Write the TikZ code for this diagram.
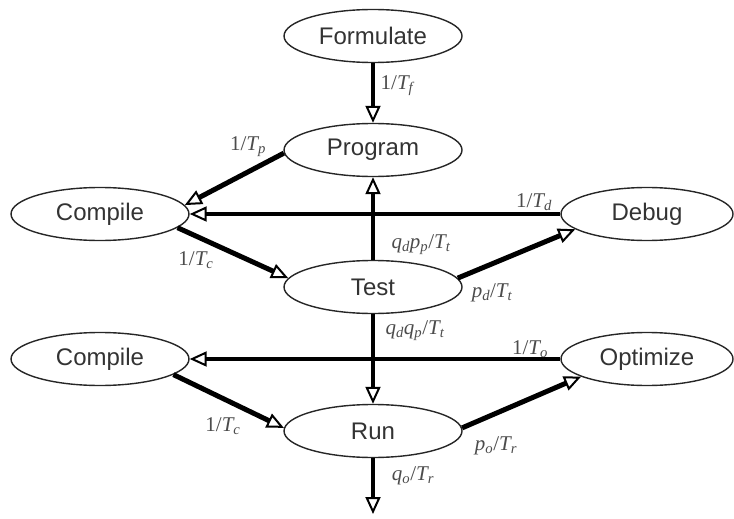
\documentclass[tikz,border=0pt]{standalone}
\usepackage[no-math]{fontspec}
\setmainfont{Liberation Sans}
\newfontfamily\lblfont{Liberation Serif}
\usetikzlibrary{shapes.geometric,arrows.meta}
\newcommand\vi[1]{{\itshape #1}}
\newcommand\sbi[1]{\textsubscript{\itshape #1}}
\begin{document}
\begin{tikzpicture}[x=1pt,y=-1pt,
  state/.style={ellipse, draw=black!85, line width=1.4pt, minimum width=178pt, minimum height=53pt, inner sep=0pt, font=\fontsize{24}{28}\selectfont, text=black!80},
  rstate/.style={state, minimum width=172pt},
  flow/.style={line width=4pt, -{Triangle[open, length=17pt, width=15pt, line width=2pt]}},
  diag/.style={flow, line width=5pt},
  lbl/.style={font=\lblfont\fontsize{21}{23}\selectfont, text=black!70, inner sep=0pt}]
\useasboundingbox (0,0) rectangle (734,519);
\node[state] (form)  at (373,36)  {Formulate};
\node[state] (prog)  at (373,150) {Program};
\node[state] (comp1) at (100,214) {Compile};
\node[rstate] (debug) at (647,214) {Debug};
\node[state] (test)  at (373,287) {Test};
\node[state] (comp2) at (100,359) {Compile};
\node[rstate] (opt)   at (647,359) {Optimize};
\node[state] (run)   at (373,431) {Run};
\coordinate (out) at (373,514);

\draw[flow] (form.south) -- (prog.north);
\draw[diag] (prog.182) -- (comp1.6);
\draw[flow] (debug.west) -- (comp1.east);
\draw[diag] (comp1.350) -- (test.174);
\draw[flow] (test.north) -- (prog.south);
\draw[diag] (test.6) -- (debug.192);
\draw[flow] (test.south) -- (run.north);
\draw[flow] (opt.west) -- (comp2.east);
\draw[diag] (comp2.348) -- (run.178);
\draw[diag] (run.2) -- (opt.195);
\draw[flow] (run.south) -- (out);

\node[lbl] (lf)  at (397,86)  {1/\vi{T}\sbi{f}};
\node[lbl] (lp)  at (248,147) {1/\vi{T}\sbi{p}};
\node[lbl] (ld)  at (534,202) {1/\vi{T}\sbi{d}};
\node[lbl] (lqp) at (421,245) {\vi{q}\sbi{d}\vi{p}\sbi{p}/\vi{T}\sbi{t}};
\node[lbl] (lc1) at (196,260) {1/\vi{T}\sbi{c}};
\node[lbl] (lpd) at (492,293) {\vi{p}\sbi{d}/\vi{T}\sbi{t}};
\node[lbl] (lqq) at (415,331) {\vi{q}\sbi{d}\vi{q}\sbi{p}/\vi{T}\sbi{t}};
\node[lbl] (lo)  at (530,349) {1/\vi{T}\sbi{o}};
\node[lbl] (lc2) at (223,426) {1/\vi{T}\sbi{c}};
\node[lbl] (lpo) at (496,446) {\vi{p}\sbi{o}/\vi{T}\sbi{r}};
\node[lbl] (lqo) at (413,476) {\vi{q}\sbi{o}/\vi{T}\sbi{r}};
\end{tikzpicture}
\end{document}
